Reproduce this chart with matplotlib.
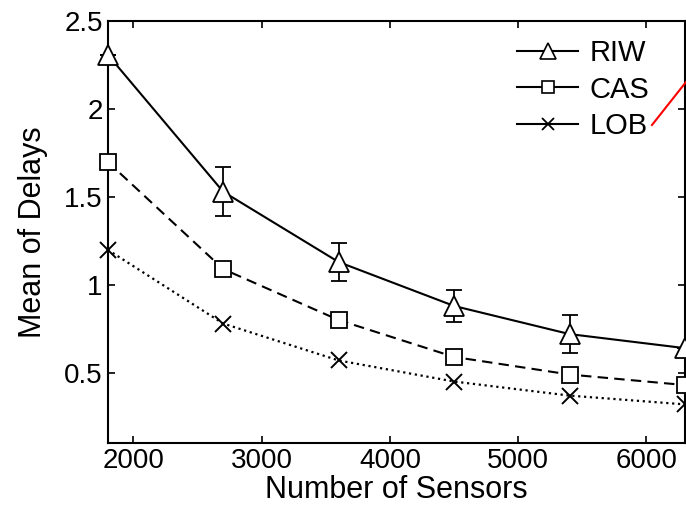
import matplotlib
matplotlib.use("Agg")
import matplotlib.pyplot as plt
from matplotlib.lines import Line2D

plt.rcParams['font.family'] = ['Liberation Sans', 'DejaVu Sans']

sensors = [1800, 2700, 3600, 4500, 5400, 6300]
riw = [2.31, 1.53, 1.13, 0.88, 0.72, 0.64]
riw_err = [0.0, 0.14, 0.11, 0.09, 0.11, 0.0]
cas = [1.70, 1.09, 0.80, 0.59, 0.49, 0.43]
cas_err = [0.0, 0.02, 0.02, 0.02, 0.02, 0.0]
lob = [1.20, 0.78, 0.57, 0.45, 0.37, 0.32]
labels = ['RIW', 'CAS', 'LOB']
x_ticks = [2000, 3000, 4000, 5000, 6000]
y_ticks = [0.5, 1, 1.5, 2, 2.5]

fig = plt.figure(figsize=(6.86, 5.17), dpi=100)
ax = fig.add_axes([0.157, 0.143, 0.8415, 0.816])

ax.errorbar(sensors, riw, yerr=riw_err, color='black', linestyle='-', lw=1.5,
            marker='^', ms=15, mfc='white', mec='black', mew=1.3,
            capsize=6, elinewidth=1.3, capthick=1.3, clip_on=False, zorder=3)
ax.errorbar(sensors, cas, yerr=cas_err, color='black', linestyle=(0, (5, 3)), lw=1.5,
            marker='s', ms=11, mfc='white', mec='black', mew=1.3,
            capsize=3, elinewidth=1.0, capthick=1.0, clip_on=False, zorder=3)
ax.plot(sensors, lob, color='black', linestyle=':', lw=1.6,
        marker='x', ms=11, mew=1.4, clip_on=False, zorder=3)

ax.set_xlim(1800, 6300)
ax.set_ylim(0.1, 2.5)
ax.set_xticks(x_ticks)
ax.set_yticks(y_ticks)
ax.set_yticklabels(['0.5', '1', '1.5', '2', '2.5'])
ax.tick_params(direction='in', top=True, right=True, length=5, width=1.2, labelsize=20)
for s in ax.spines.values():
    s.set_linewidth(1.5)
ax.set_xlabel('Number of Sensors', fontsize=22, labelpad=1)
ax.set_ylabel('Mean of Delays', fontsize=22, labelpad=12)

handles = [
    Line2D([], [], color='black', lw=1.5, marker='^', ms=11, mfc='white', mec='black', mew=1.2),
    Line2D([], [], color='black', lw=1.5, marker='s', ms=9, mfc='white', mec='black', mew=1.2),
    Line2D([], [], color='black', lw=1.5, marker='x', ms=9, mew=1.3),
]
ax.legend(handles, labels, loc='upper right', frameon=False, fontsize=21,
          handlelength=2.1, handletextpad=0.4, labelspacing=0.29,
          borderaxespad=0.0, bbox_to_anchor=(0.959, 0.985))

fig.add_artist(Line2D([652/686, 686/686], [1 - 125/517, 1 - 82/517],
                      transform=fig.transFigure, color='red', lw=1.5))

fig.savefig('out.png', dpi=100)
